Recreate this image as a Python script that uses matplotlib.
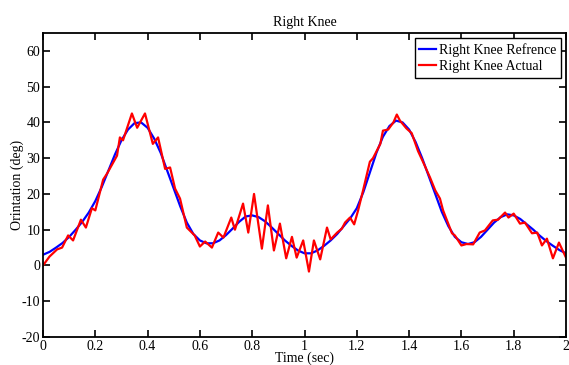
import matplotlib
matplotlib.use("Agg")
import matplotlib.pyplot as plt
from matplotlib.ticker import FuncFormatter

plt.rcParams['font.family'] = ['Liberation Serif', 'DejaVu Serif']
plt.rcParams['font.size'] = 10
plt.rcParams['axes.unicode_minus'] = False

# reference curve, sampled every 0.025 s
ref_t = [i * 0.025 for i in range(81)]
ref_v = [3.0, 3.8, 5.0, 6.3, 8.0, 10.0, 12.2, 14.8, 18.0, 22.0,
         26.5, 31.0, 35.0, 38.0, 39.8, 40.0, 38.5, 35.5, 31.5, 26.5,
         21.5, 16.5, 12.0, 8.8, 7.0, 6.2, 6.2, 7.0, 8.5, 10.3,
         12.2, 13.7, 14.0, 13.5, 12.3, 10.6, 8.8, 7.0, 5.5, 4.2,
         3.4, 3.4, 4.2, 5.5, 7.0, 8.8, 11.0, 13.2, 16.0, 20.5,
         26.0, 31.5, 36.0, 39.0, 40.5, 40.0, 38.0, 34.5, 30.0, 25.0,
         20.0, 15.0, 11.0, 8.0, 6.5, 6.0, 6.5, 8.0, 10.0, 12.0,
         13.5, 14.3, 14.0, 13.0, 11.5, 10.0, 8.3, 6.8, 5.5, 4.3,
         3.4]

# actual curve
act_t = [0.000, 0.025, 0.054, 0.073, 0.096, 0.115, 0.145, 0.164, 0.187, 0.200,
         0.230, 0.245, 0.283, 0.294, 0.306, 0.340, 0.360, 0.390, 0.420, 0.440,
         0.467, 0.486, 0.505, 0.524, 0.550, 0.580, 0.600, 0.620, 0.646, 0.670,
         0.690, 0.720, 0.734, 0.765, 0.785, 0.807, 0.837, 0.860, 0.883, 0.906,
         0.930, 0.952, 0.970, 0.995, 1.017, 1.036, 1.060, 1.086, 1.100, 1.125,
         1.143, 1.155, 1.174, 1.190, 1.205, 1.224, 1.250, 1.262, 1.290, 1.300,
         1.320, 1.340, 1.353, 1.365, 1.390, 1.410, 1.434, 1.453, 1.480, 1.500,
         1.518, 1.530, 1.564, 1.575, 1.600, 1.620, 1.645, 1.670, 1.690, 1.720,
         1.740, 1.767, 1.780, 1.800, 1.824, 1.843, 1.870, 1.890, 1.908, 1.927,
         1.950, 1.973, 2.000]
act_v = [0.0, 2.5, 4.5, 5.0, 8.4, 7.0, 12.8, 10.6, 16.0, 15.4,
         24.0, 25.7, 30.7, 35.8, 35.0, 42.5, 38.5, 42.5, 34.0, 35.8,
         27.0, 27.4, 21.5, 18.7, 10.6, 8.4, 5.3, 6.7, 5.0, 9.2,
         7.8, 13.4, 10.0, 17.3, 9.2, 20.0, 4.7, 16.8, 4.2, 11.7,
         2.0, 8.0, 2.2, 7.0, -1.7, 7.0, 1.7, 10.6, 7.3, 9.2,
         10.3, 12.0, 13.4, 11.5, 15.4, 21.0, 29.0, 30.0, 34.0, 37.7,
         38.0, 40.0, 42.2, 40.5, 38.3, 37.0, 32.0, 29.0, 24.6, 21.0,
         18.7, 15.4, 9.0, 8.4, 5.6, 6.0, 5.9, 9.2, 9.8, 12.6,
         12.8, 14.8, 13.4, 14.5, 11.7, 12.0, 9.0, 9.2, 5.6, 7.5,
         2.0, 6.4, 2.2]

x_ticks = [0, 0.2, 0.4, 0.6, 0.8, 1, 1.2, 1.4, 1.6, 1.8, 2]
y_ticks = [-20, -10, 0, 10, 20, 30, 40, 50, 60]

fig = plt.figure(figsize=(5.69, 3.65), dpi=100)
ax = fig.add_axes([43 / 569, 28 / 365, 523 / 569, 304 / 365])

ax.plot(ref_t, ref_v, color='#0000ff', lw=1.6, label='Right Knee Refrence')
ax.plot(act_t, act_v, color='#ff0000', lw=1.6, label='Right Knee Actual')

ax.set_xlim(0, 2)
ax.set_ylim(-20, 65)
ax.set_xticks(x_ticks)
ax.set_yticks(y_ticks)
ax.xaxis.set_major_formatter(FuncFormatter(lambda v, p: '%g' % v))
ax.tick_params(direction='in', top=True, right=True, length=5, width=1.2, pad=2)
for s in ax.spines.values():
    s.set_linewidth(1.3)

ax.set_title('Right Knee', fontsize=10, pad=5)
ax.set_xlabel('Time (sec)', labelpad=-1)
ax.set_ylabel('Orintation (deg)', labelpad=-2)

leg = ax.legend(loc='upper right', fancybox=False, framealpha=1, edgecolor='black',
                handlelength=1.2, handletextpad=0.2, borderpad=0.35, labelspacing=0.25,
                borderaxespad=0.35)
leg.get_frame().set_linewidth(1.0)

fig.savefig('out.png', dpi=100)
